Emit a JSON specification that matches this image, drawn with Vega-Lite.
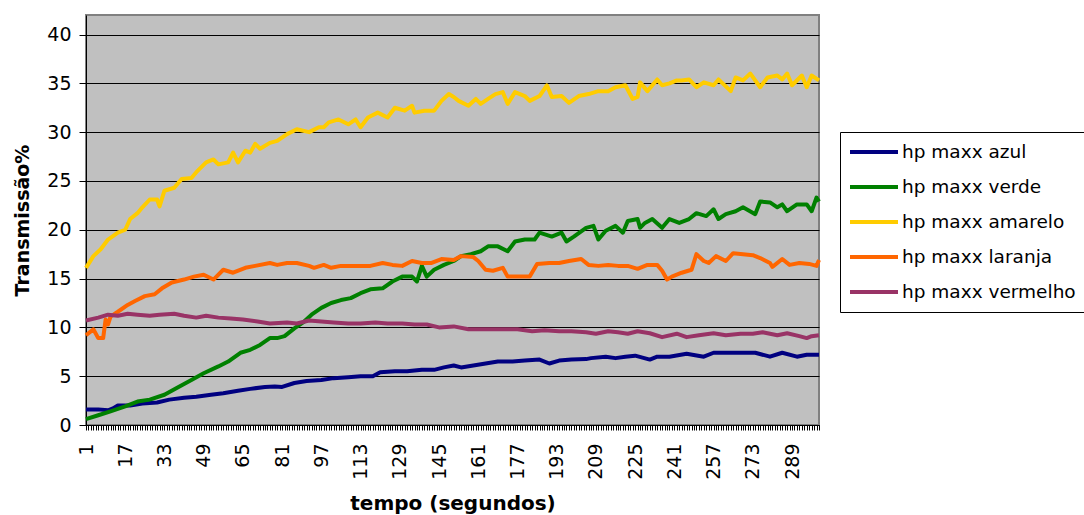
{
  "$schema": "https://vega.github.io/schema/vega-lite/v6.json",
  "width": 733,
  "height": 410,
  "autosize": {"type": "none"},
  "padding": {"left": 86, "top": 15, "right": 265, "bottom": 90},
  "background": "white",
  "config": {
    "font": "DejaVu Sans",
    "view": {"fill": "#C0C0C0", "stroke": "#808080", "strokeWidth": 2}
  },
  "data": {
    "values": [
      {"tempo": 1, "serie": "hp maxx azul", "valor": 1.6},
      {"tempo": 6, "serie": "hp maxx azul", "valor": 1.6},
      {"tempo": 10, "serie": "hp maxx azul", "valor": 1.5},
      {"tempo": 12, "serie": "hp maxx azul", "valor": 1.7},
      {"tempo": 14, "serie": "hp maxx azul", "valor": 2.0},
      {"tempo": 19, "serie": "hp maxx azul", "valor": 2.0},
      {"tempo": 24, "serie": "hp maxx azul", "valor": 2.2},
      {"tempo": 30, "serie": "hp maxx azul", "valor": 2.3},
      {"tempo": 35, "serie": "hp maxx azul", "valor": 2.6},
      {"tempo": 41, "serie": "hp maxx azul", "valor": 2.8},
      {"tempo": 46, "serie": "hp maxx azul", "valor": 2.9},
      {"tempo": 52, "serie": "hp maxx azul", "valor": 3.1},
      {"tempo": 57, "serie": "hp maxx azul", "valor": 3.25},
      {"tempo": 63, "serie": "hp maxx azul", "valor": 3.5},
      {"tempo": 68, "serie": "hp maxx azul", "valor": 3.7},
      {"tempo": 74, "serie": "hp maxx azul", "valor": 3.9},
      {"tempo": 78, "serie": "hp maxx azul", "valor": 3.95},
      {"tempo": 81, "serie": "hp maxx azul", "valor": 3.9},
      {"tempo": 86, "serie": "hp maxx azul", "valor": 4.3},
      {"tempo": 91, "serie": "hp maxx azul", "valor": 4.5},
      {"tempo": 97, "serie": "hp maxx azul", "valor": 4.6},
      {"tempo": 102, "serie": "hp maxx azul", "valor": 4.8},
      {"tempo": 108, "serie": "hp maxx azul", "valor": 4.9},
      {"tempo": 113, "serie": "hp maxx azul", "valor": 5.0},
      {"tempo": 118, "serie": "hp maxx azul", "valor": 5.0},
      {"tempo": 121, "serie": "hp maxx azul", "valor": 5.4},
      {"tempo": 127, "serie": "hp maxx azul", "valor": 5.5},
      {"tempo": 132, "serie": "hp maxx azul", "valor": 5.5},
      {"tempo": 138, "serie": "hp maxx azul", "valor": 5.65},
      {"tempo": 143, "serie": "hp maxx azul", "valor": 5.65},
      {"tempo": 147, "serie": "hp maxx azul", "valor": 5.9},
      {"tempo": 151, "serie": "hp maxx azul", "valor": 6.1},
      {"tempo": 154, "serie": "hp maxx azul", "valor": 5.9},
      {"tempo": 159, "serie": "hp maxx azul", "valor": 6.1},
      {"tempo": 164, "serie": "hp maxx azul", "valor": 6.3},
      {"tempo": 169, "serie": "hp maxx azul", "valor": 6.5},
      {"tempo": 175, "serie": "hp maxx azul", "valor": 6.5},
      {"tempo": 180, "serie": "hp maxx azul", "valor": 6.6},
      {"tempo": 186, "serie": "hp maxx azul", "valor": 6.7},
      {"tempo": 190, "serie": "hp maxx azul", "valor": 6.3},
      {"tempo": 194, "serie": "hp maxx azul", "valor": 6.6},
      {"tempo": 199, "serie": "hp maxx azul", "valor": 6.7},
      {"tempo": 205, "serie": "hp maxx azul", "valor": 6.75},
      {"tempo": 207, "serie": "hp maxx azul", "valor": 6.85},
      {"tempo": 213, "serie": "hp maxx azul", "valor": 7.0},
      {"tempo": 217, "serie": "hp maxx azul", "valor": 6.85},
      {"tempo": 221, "serie": "hp maxx azul", "valor": 7.0},
      {"tempo": 225, "serie": "hp maxx azul", "valor": 7.1},
      {"tempo": 231, "serie": "hp maxx azul", "valor": 6.7},
      {"tempo": 234, "serie": "hp maxx azul", "valor": 7.0},
      {"tempo": 239, "serie": "hp maxx azul", "valor": 7.0},
      {"tempo": 246, "serie": "hp maxx azul", "valor": 7.3},
      {"tempo": 253, "serie": "hp maxx azul", "valor": 7.0},
      {"tempo": 257, "serie": "hp maxx azul", "valor": 7.4},
      {"tempo": 264, "serie": "hp maxx azul", "valor": 7.4},
      {"tempo": 269, "serie": "hp maxx azul", "valor": 7.4},
      {"tempo": 274, "serie": "hp maxx azul", "valor": 7.4},
      {"tempo": 280, "serie": "hp maxx azul", "valor": 7.0},
      {"tempo": 285, "serie": "hp maxx azul", "valor": 7.4},
      {"tempo": 291, "serie": "hp maxx azul", "valor": 7.0},
      {"tempo": 295, "serie": "hp maxx azul", "valor": 7.2},
      {"tempo": 300, "serie": "hp maxx azul", "valor": 7.2},

      {"tempo": 1, "serie": "hp maxx verde", "valor": 0.6},
      {"tempo": 6, "serie": "hp maxx verde", "valor": 1.0},
      {"tempo": 11, "serie": "hp maxx verde", "valor": 1.4},
      {"tempo": 17, "serie": "hp maxx verde", "valor": 1.9},
      {"tempo": 22, "serie": "hp maxx verde", "valor": 2.4},
      {"tempo": 27, "serie": "hp maxx verde", "valor": 2.6},
      {"tempo": 33, "serie": "hp maxx verde", "valor": 3.1},
      {"tempo": 38, "serie": "hp maxx verde", "valor": 3.8},
      {"tempo": 44, "serie": "hp maxx verde", "valor": 4.6},
      {"tempo": 49, "serie": "hp maxx verde", "valor": 5.3},
      {"tempo": 55, "serie": "hp maxx verde", "valor": 6.0},
      {"tempo": 59, "serie": "hp maxx verde", "valor": 6.5},
      {"tempo": 64, "serie": "hp maxx verde", "valor": 7.4},
      {"tempo": 68, "serie": "hp maxx verde", "valor": 7.7},
      {"tempo": 72, "serie": "hp maxx verde", "valor": 8.2},
      {"tempo": 76, "serie": "hp maxx verde", "valor": 8.9},
      {"tempo": 79, "serie": "hp maxx verde", "valor": 8.9},
      {"tempo": 82, "serie": "hp maxx verde", "valor": 9.1},
      {"tempo": 86, "serie": "hp maxx verde", "valor": 9.9},
      {"tempo": 90, "serie": "hp maxx verde", "valor": 10.6},
      {"tempo": 93, "serie": "hp maxx verde", "valor": 11.3},
      {"tempo": 97, "serie": "hp maxx verde", "valor": 12.0},
      {"tempo": 101, "serie": "hp maxx verde", "valor": 12.5},
      {"tempo": 105, "serie": "hp maxx verde", "valor": 12.8},
      {"tempo": 109, "serie": "hp maxx verde", "valor": 13.0},
      {"tempo": 113, "serie": "hp maxx verde", "valor": 13.5},
      {"tempo": 117, "serie": "hp maxx verde", "valor": 13.9},
      {"tempo": 122, "serie": "hp maxx verde", "valor": 14.0},
      {"tempo": 126, "serie": "hp maxx verde", "valor": 14.7},
      {"tempo": 130, "serie": "hp maxx verde", "valor": 15.2},
      {"tempo": 134, "serie": "hp maxx verde", "valor": 15.2},
      {"tempo": 136, "serie": "hp maxx verde", "valor": 14.7},
      {"tempo": 138, "serie": "hp maxx verde", "valor": 16.3},
      {"tempo": 140, "serie": "hp maxx verde", "valor": 15.2},
      {"tempo": 143, "serie": "hp maxx verde", "valor": 15.9},
      {"tempo": 147, "serie": "hp maxx verde", "valor": 16.4},
      {"tempo": 151, "serie": "hp maxx verde", "valor": 16.8},
      {"tempo": 154, "serie": "hp maxx verde", "valor": 17.3},
      {"tempo": 158, "serie": "hp maxx verde", "valor": 17.5},
      {"tempo": 162, "serie": "hp maxx verde", "valor": 17.8},
      {"tempo": 165, "serie": "hp maxx verde", "valor": 18.3},
      {"tempo": 169, "serie": "hp maxx verde", "valor": 18.3},
      {"tempo": 173, "serie": "hp maxx verde", "valor": 17.8},
      {"tempo": 176, "serie": "hp maxx verde", "valor": 18.8},
      {"tempo": 180, "serie": "hp maxx verde", "valor": 19.0},
      {"tempo": 184, "serie": "hp maxx verde", "valor": 19.0},
      {"tempo": 186, "serie": "hp maxx verde", "valor": 19.7},
      {"tempo": 191, "serie": "hp maxx verde", "valor": 19.3},
      {"tempo": 195, "serie": "hp maxx verde", "valor": 19.7},
      {"tempo": 197, "serie": "hp maxx verde", "valor": 18.8},
      {"tempo": 200, "serie": "hp maxx verde", "valor": 19.3},
      {"tempo": 205, "serie": "hp maxx verde", "valor": 20.2},
      {"tempo": 208, "serie": "hp maxx verde", "valor": 20.4},
      {"tempo": 210, "serie": "hp maxx verde", "valor": 19.0},
      {"tempo": 213, "serie": "hp maxx verde", "valor": 19.9},
      {"tempo": 217, "serie": "hp maxx verde", "valor": 20.4},
      {"tempo": 220, "serie": "hp maxx verde", "valor": 19.7},
      {"tempo": 222, "serie": "hp maxx verde", "valor": 20.9},
      {"tempo": 226, "serie": "hp maxx verde", "valor": 21.1},
      {"tempo": 227, "serie": "hp maxx verde", "valor": 20.2},
      {"tempo": 229, "serie": "hp maxx verde", "valor": 20.7},
      {"tempo": 232, "serie": "hp maxx verde", "valor": 21.1},
      {"tempo": 236, "serie": "hp maxx verde", "valor": 20.2},
      {"tempo": 239, "serie": "hp maxx verde", "valor": 21.1},
      {"tempo": 243, "serie": "hp maxx verde", "valor": 20.7},
      {"tempo": 247, "serie": "hp maxx verde", "valor": 21.1},
      {"tempo": 250, "serie": "hp maxx verde", "valor": 21.7},
      {"tempo": 254, "serie": "hp maxx verde", "valor": 21.4},
      {"tempo": 257, "serie": "hp maxx verde", "valor": 22.1},
      {"tempo": 259, "serie": "hp maxx verde", "valor": 21.1},
      {"tempo": 262, "serie": "hp maxx verde", "valor": 21.6},
      {"tempo": 266, "serie": "hp maxx verde", "valor": 21.9},
      {"tempo": 269, "serie": "hp maxx verde", "valor": 22.3},
      {"tempo": 274, "serie": "hp maxx verde", "valor": 21.6},
      {"tempo": 276, "serie": "hp maxx verde", "valor": 22.9},
      {"tempo": 280, "serie": "hp maxx verde", "valor": 22.8},
      {"tempo": 283, "serie": "hp maxx verde", "valor": 22.3},
      {"tempo": 285, "serie": "hp maxx verde", "valor": 22.6},
      {"tempo": 287, "serie": "hp maxx verde", "valor": 21.9},
      {"tempo": 291, "serie": "hp maxx verde", "valor": 22.6},
      {"tempo": 295, "serie": "hp maxx verde", "valor": 22.6},
      {"tempo": 297, "serie": "hp maxx verde", "valor": 21.9},
      {"tempo": 299, "serie": "hp maxx verde", "valor": 23.3},
      {"tempo": 300, "serie": "hp maxx verde", "valor": 22.9},

      {"tempo": 1, "serie": "hp maxx amarelo", "valor": 16.1},
      {"tempo": 4, "serie": "hp maxx amarelo", "valor": 17.3},
      {"tempo": 7, "serie": "hp maxx amarelo", "valor": 18.0},
      {"tempo": 10, "serie": "hp maxx amarelo", "valor": 19.0},
      {"tempo": 14, "serie": "hp maxx amarelo", "valor": 19.7},
      {"tempo": 17, "serie": "hp maxx amarelo", "valor": 20.0},
      {"tempo": 19, "serie": "hp maxx amarelo", "valor": 21.1},
      {"tempo": 22, "serie": "hp maxx amarelo", "valor": 21.7},
      {"tempo": 24, "serie": "hp maxx amarelo", "valor": 22.3},
      {"tempo": 27, "serie": "hp maxx amarelo", "valor": 23.1},
      {"tempo": 30, "serie": "hp maxx amarelo", "valor": 23.1},
      {"tempo": 31, "serie": "hp maxx amarelo", "valor": 22.4},
      {"tempo": 33, "serie": "hp maxx amarelo", "valor": 24.0},
      {"tempo": 37, "serie": "hp maxx amarelo", "valor": 24.3},
      {"tempo": 40, "serie": "hp maxx amarelo", "valor": 25.2},
      {"tempo": 44, "serie": "hp maxx amarelo", "valor": 25.3},
      {"tempo": 46, "serie": "hp maxx amarelo", "valor": 25.9},
      {"tempo": 50, "serie": "hp maxx amarelo", "valor": 26.9},
      {"tempo": 53, "serie": "hp maxx amarelo", "valor": 27.2},
      {"tempo": 55, "serie": "hp maxx amarelo", "valor": 26.7},
      {"tempo": 59, "serie": "hp maxx amarelo", "valor": 26.9},
      {"tempo": 61, "serie": "hp maxx amarelo", "valor": 27.9},
      {"tempo": 63, "serie": "hp maxx amarelo", "valor": 26.9},
      {"tempo": 66, "serie": "hp maxx amarelo", "valor": 28.1},
      {"tempo": 68, "serie": "hp maxx amarelo", "valor": 27.9},
      {"tempo": 70, "serie": "hp maxx amarelo", "valor": 28.8},
      {"tempo": 72, "serie": "hp maxx amarelo", "valor": 28.3},
      {"tempo": 76, "serie": "hp maxx amarelo", "valor": 28.9},
      {"tempo": 79, "serie": "hp maxx amarelo", "valor": 29.1},
      {"tempo": 83, "serie": "hp maxx amarelo", "valor": 29.8},
      {"tempo": 87, "serie": "hp maxx amarelo", "valor": 30.3},
      {"tempo": 92, "serie": "hp maxx amarelo", "valor": 30.0},
      {"tempo": 96, "serie": "hp maxx amarelo", "valor": 30.5},
      {"tempo": 98, "serie": "hp maxx amarelo", "valor": 30.5},
      {"tempo": 100, "serie": "hp maxx amarelo", "valor": 31.0},
      {"tempo": 104, "serie": "hp maxx amarelo", "valor": 31.3},
      {"tempo": 108, "serie": "hp maxx amarelo", "valor": 30.8},
      {"tempo": 111, "serie": "hp maxx amarelo", "valor": 31.3},
      {"tempo": 113, "serie": "hp maxx amarelo", "valor": 30.5},
      {"tempo": 116, "serie": "hp maxx amarelo", "valor": 31.5},
      {"tempo": 120, "serie": "hp maxx amarelo", "valor": 32.0},
      {"tempo": 124, "serie": "hp maxx amarelo", "valor": 31.5},
      {"tempo": 127, "serie": "hp maxx amarelo", "valor": 32.5},
      {"tempo": 131, "serie": "hp maxx amarelo", "valor": 32.2},
      {"tempo": 134, "serie": "hp maxx amarelo", "valor": 32.7},
      {"tempo": 135, "serie": "hp maxx amarelo", "valor": 32.0},
      {"tempo": 139, "serie": "hp maxx amarelo", "valor": 32.2},
      {"tempo": 143, "serie": "hp maxx amarelo", "valor": 32.2},
      {"tempo": 146, "serie": "hp maxx amarelo", "valor": 33.2},
      {"tempo": 149, "serie": "hp maxx amarelo", "valor": 33.9},
      {"tempo": 151, "serie": "hp maxx amarelo", "valor": 33.6},
      {"tempo": 153, "serie": "hp maxx amarelo", "valor": 33.2},
      {"tempo": 157, "serie": "hp maxx amarelo", "valor": 32.7},
      {"tempo": 160, "serie": "hp maxx amarelo", "valor": 33.4},
      {"tempo": 162, "serie": "hp maxx amarelo", "valor": 32.9},
      {"tempo": 165, "serie": "hp maxx amarelo", "valor": 33.4},
      {"tempo": 168, "serie": "hp maxx amarelo", "valor": 33.9},
      {"tempo": 171, "serie": "hp maxx amarelo", "valor": 34.1},
      {"tempo": 173, "serie": "hp maxx amarelo", "valor": 32.9},
      {"tempo": 176, "serie": "hp maxx amarelo", "valor": 34.1},
      {"tempo": 180, "serie": "hp maxx amarelo", "valor": 33.7},
      {"tempo": 182, "serie": "hp maxx amarelo", "valor": 33.2},
      {"tempo": 186, "serie": "hp maxx amarelo", "valor": 33.7},
      {"tempo": 189, "serie": "hp maxx amarelo", "valor": 34.8},
      {"tempo": 191, "serie": "hp maxx amarelo", "valor": 33.6},
      {"tempo": 195, "serie": "hp maxx amarelo", "valor": 33.7},
      {"tempo": 198, "serie": "hp maxx amarelo", "valor": 33.0},
      {"tempo": 202, "serie": "hp maxx amarelo", "valor": 33.7},
      {"tempo": 206, "serie": "hp maxx amarelo", "valor": 33.9},
      {"tempo": 210, "serie": "hp maxx amarelo", "valor": 34.2},
      {"tempo": 214, "serie": "hp maxx amarelo", "valor": 34.2},
      {"tempo": 217, "serie": "hp maxx amarelo", "valor": 34.6},
      {"tempo": 221, "serie": "hp maxx amarelo", "valor": 34.8},
      {"tempo": 224, "serie": "hp maxx amarelo", "valor": 33.4},
      {"tempo": 226, "serie": "hp maxx amarelo", "valor": 33.6},
      {"tempo": 227, "serie": "hp maxx amarelo", "valor": 35.1},
      {"tempo": 230, "serie": "hp maxx amarelo", "valor": 34.2},
      {"tempo": 234, "serie": "hp maxx amarelo", "valor": 35.4},
      {"tempo": 236, "serie": "hp maxx amarelo", "valor": 34.8},
      {"tempo": 239, "serie": "hp maxx amarelo", "valor": 35.0},
      {"tempo": 242, "serie": "hp maxx amarelo", "valor": 35.3},
      {"tempo": 244, "serie": "hp maxx amarelo", "valor": 35.3},
      {"tempo": 247, "serie": "hp maxx amarelo", "valor": 35.4},
      {"tempo": 250, "serie": "hp maxx amarelo", "valor": 34.6},
      {"tempo": 253, "serie": "hp maxx amarelo", "valor": 35.1},
      {"tempo": 257, "serie": "hp maxx amarelo", "valor": 34.8},
      {"tempo": 259, "serie": "hp maxx amarelo", "valor": 35.4},
      {"tempo": 264, "serie": "hp maxx amarelo", "valor": 34.2},
      {"tempo": 266, "serie": "hp maxx amarelo", "valor": 35.6},
      {"tempo": 269, "serie": "hp maxx amarelo", "valor": 35.3},
      {"tempo": 272, "serie": "hp maxx amarelo", "valor": 36.0},
      {"tempo": 276, "serie": "hp maxx amarelo", "valor": 34.6},
      {"tempo": 279, "serie": "hp maxx amarelo", "valor": 35.6},
      {"tempo": 283, "serie": "hp maxx amarelo", "valor": 35.8},
      {"tempo": 285, "serie": "hp maxx amarelo", "valor": 35.4},
      {"tempo": 287, "serie": "hp maxx amarelo", "valor": 36.0},
      {"tempo": 289, "serie": "hp maxx amarelo", "valor": 34.8},
      {"tempo": 293, "serie": "hp maxx amarelo", "valor": 35.8},
      {"tempo": 295, "serie": "hp maxx amarelo", "valor": 34.6},
      {"tempo": 297, "serie": "hp maxx amarelo", "valor": 35.8},
      {"tempo": 300, "serie": "hp maxx amarelo", "valor": 35.3},

      {"tempo": 1, "serie": "hp maxx laranja", "valor": 9.2},
      {"tempo": 4, "serie": "hp maxx laranja", "valor": 9.8},
      {"tempo": 6, "serie": "hp maxx laranja", "valor": 8.9},
      {"tempo": 8, "serie": "hp maxx laranja", "valor": 8.9},
      {"tempo": 9, "serie": "hp maxx laranja", "valor": 10.8},
      {"tempo": 10, "serie": "hp maxx laranja", "valor": 10.3},
      {"tempo": 11, "serie": "hp maxx laranja", "valor": 11.1},
      {"tempo": 14, "serie": "hp maxx laranja", "valor": 11.6},
      {"tempo": 18, "serie": "hp maxx laranja", "valor": 12.3},
      {"tempo": 21, "serie": "hp maxx laranja", "valor": 12.7},
      {"tempo": 25, "serie": "hp maxx laranja", "valor": 13.2},
      {"tempo": 29, "serie": "hp maxx laranja", "valor": 13.4},
      {"tempo": 32, "serie": "hp maxx laranja", "valor": 14.0},
      {"tempo": 36, "serie": "hp maxx laranja", "valor": 14.6},
      {"tempo": 41, "serie": "hp maxx laranja", "valor": 14.9},
      {"tempo": 45, "serie": "hp maxx laranja", "valor": 15.2},
      {"tempo": 49, "serie": "hp maxx laranja", "valor": 15.4},
      {"tempo": 53, "serie": "hp maxx laranja", "valor": 14.9},
      {"tempo": 57, "serie": "hp maxx laranja", "valor": 15.9},
      {"tempo": 61, "serie": "hp maxx laranja", "valor": 15.6},
      {"tempo": 66, "serie": "hp maxx laranja", "valor": 16.1},
      {"tempo": 70, "serie": "hp maxx laranja", "valor": 16.3},
      {"tempo": 76, "serie": "hp maxx laranja", "valor": 16.6},
      {"tempo": 79, "serie": "hp maxx laranja", "valor": 16.4},
      {"tempo": 83, "serie": "hp maxx laranja", "valor": 16.6},
      {"tempo": 87, "serie": "hp maxx laranja", "valor": 16.6},
      {"tempo": 92, "serie": "hp maxx laranja", "valor": 16.3},
      {"tempo": 94, "serie": "hp maxx laranja", "valor": 16.1},
      {"tempo": 98, "serie": "hp maxx laranja", "valor": 16.4},
      {"tempo": 101, "serie": "hp maxx laranja", "valor": 16.1},
      {"tempo": 105, "serie": "hp maxx laranja", "valor": 16.3},
      {"tempo": 109, "serie": "hp maxx laranja", "valor": 16.3},
      {"tempo": 113, "serie": "hp maxx laranja", "valor": 16.3},
      {"tempo": 117, "serie": "hp maxx laranja", "valor": 16.3},
      {"tempo": 122, "serie": "hp maxx laranja", "valor": 16.6},
      {"tempo": 126, "serie": "hp maxx laranja", "valor": 16.4},
      {"tempo": 130, "serie": "hp maxx laranja", "valor": 16.3},
      {"tempo": 134, "serie": "hp maxx laranja", "valor": 16.8},
      {"tempo": 138, "serie": "hp maxx laranja", "valor": 16.6},
      {"tempo": 142, "serie": "hp maxx laranja", "valor": 16.6},
      {"tempo": 146, "serie": "hp maxx laranja", "valor": 17.0},
      {"tempo": 151, "serie": "hp maxx laranja", "valor": 16.9},
      {"tempo": 154, "serie": "hp maxx laranja", "valor": 17.3},
      {"tempo": 159, "serie": "hp maxx laranja", "valor": 17.2},
      {"tempo": 161, "serie": "hp maxx laranja", "valor": 16.8},
      {"tempo": 164, "serie": "hp maxx laranja", "valor": 15.9},
      {"tempo": 167, "serie": "hp maxx laranja", "valor": 15.8},
      {"tempo": 171, "serie": "hp maxx laranja", "valor": 16.1},
      {"tempo": 173, "serie": "hp maxx laranja", "valor": 15.2},
      {"tempo": 178, "serie": "hp maxx laranja", "valor": 15.2},
      {"tempo": 182, "serie": "hp maxx laranja", "valor": 15.2},
      {"tempo": 185, "serie": "hp maxx laranja", "valor": 16.5},
      {"tempo": 190, "serie": "hp maxx laranja", "valor": 16.6},
      {"tempo": 194, "serie": "hp maxx laranja", "valor": 16.6},
      {"tempo": 198, "serie": "hp maxx laranja", "valor": 16.8},
      {"tempo": 203, "serie": "hp maxx laranja", "valor": 17.0},
      {"tempo": 206, "serie": "hp maxx laranja", "valor": 16.4},
      {"tempo": 210, "serie": "hp maxx laranja", "valor": 16.3},
      {"tempo": 214, "serie": "hp maxx laranja", "valor": 16.4},
      {"tempo": 218, "serie": "hp maxx laranja", "valor": 16.3},
      {"tempo": 222, "serie": "hp maxx laranja", "valor": 16.3},
      {"tempo": 226, "serie": "hp maxx laranja", "valor": 16.0},
      {"tempo": 230, "serie": "hp maxx laranja", "valor": 16.4},
      {"tempo": 234, "serie": "hp maxx laranja", "valor": 16.4},
      {"tempo": 236, "serie": "hp maxx laranja", "valor": 15.8},
      {"tempo": 238, "serie": "hp maxx laranja", "valor": 14.9},
      {"tempo": 240, "serie": "hp maxx laranja", "valor": 15.2},
      {"tempo": 244, "serie": "hp maxx laranja", "valor": 15.6},
      {"tempo": 248, "serie": "hp maxx laranja", "valor": 15.9},
      {"tempo": 250, "serie": "hp maxx laranja", "valor": 17.5},
      {"tempo": 253, "serie": "hp maxx laranja", "valor": 16.8},
      {"tempo": 255, "serie": "hp maxx laranja", "valor": 16.6},
      {"tempo": 258, "serie": "hp maxx laranja", "valor": 17.3},
      {"tempo": 262, "serie": "hp maxx laranja", "valor": 16.8},
      {"tempo": 265, "serie": "hp maxx laranja", "valor": 17.6},
      {"tempo": 269, "serie": "hp maxx laranja", "valor": 17.5},
      {"tempo": 273, "serie": "hp maxx laranja", "valor": 17.4},
      {"tempo": 276, "serie": "hp maxx laranja", "valor": 17.1},
      {"tempo": 280, "serie": "hp maxx laranja", "valor": 16.6},
      {"tempo": 281, "serie": "hp maxx laranja", "valor": 16.2},
      {"tempo": 285, "serie": "hp maxx laranja", "valor": 17.0},
      {"tempo": 288, "serie": "hp maxx laranja", "valor": 16.4},
      {"tempo": 292, "serie": "hp maxx laranja", "valor": 16.6},
      {"tempo": 296, "serie": "hp maxx laranja", "valor": 16.5},
      {"tempo": 299, "serie": "hp maxx laranja", "valor": 16.3},
      {"tempo": 300, "serie": "hp maxx laranja", "valor": 16.9},

      {"tempo": 1, "serie": "hp maxx vermelho", "valor": 10.7},
      {"tempo": 6, "serie": "hp maxx vermelho", "valor": 11.0},
      {"tempo": 10, "serie": "hp maxx vermelho", "valor": 11.3},
      {"tempo": 14, "serie": "hp maxx vermelho", "valor": 11.2},
      {"tempo": 18, "serie": "hp maxx vermelho", "valor": 11.4},
      {"tempo": 22, "serie": "hp maxx vermelho", "valor": 11.3},
      {"tempo": 27, "serie": "hp maxx vermelho", "valor": 11.2},
      {"tempo": 31, "serie": "hp maxx vermelho", "valor": 11.3},
      {"tempo": 37, "serie": "hp maxx vermelho", "valor": 11.4},
      {"tempo": 41, "serie": "hp maxx vermelho", "valor": 11.2},
      {"tempo": 46, "serie": "hp maxx vermelho", "valor": 11.0},
      {"tempo": 50, "serie": "hp maxx vermelho", "valor": 11.2},
      {"tempo": 55, "serie": "hp maxx vermelho", "valor": 11.0},
      {"tempo": 60, "serie": "hp maxx vermelho", "valor": 10.9},
      {"tempo": 65, "serie": "hp maxx vermelho", "valor": 10.8},
      {"tempo": 71, "serie": "hp maxx vermelho", "valor": 10.6},
      {"tempo": 76, "serie": "hp maxx vermelho", "valor": 10.4},
      {"tempo": 83, "serie": "hp maxx vermelho", "valor": 10.5},
      {"tempo": 87, "serie": "hp maxx vermelho", "valor": 10.4},
      {"tempo": 92, "serie": "hp maxx vermelho", "valor": 10.7},
      {"tempo": 97, "serie": "hp maxx vermelho", "valor": 10.6},
      {"tempo": 102, "serie": "hp maxx vermelho", "valor": 10.5},
      {"tempo": 108, "serie": "hp maxx vermelho", "valor": 10.4},
      {"tempo": 113, "serie": "hp maxx vermelho", "valor": 10.4},
      {"tempo": 119, "serie": "hp maxx vermelho", "valor": 10.5},
      {"tempo": 124, "serie": "hp maxx vermelho", "valor": 10.4},
      {"tempo": 130, "serie": "hp maxx vermelho", "valor": 10.4},
      {"tempo": 135, "serie": "hp maxx vermelho", "valor": 10.3},
      {"tempo": 140, "serie": "hp maxx vermelho", "valor": 10.3},
      {"tempo": 145, "serie": "hp maxx vermelho", "valor": 10.0},
      {"tempo": 151, "serie": "hp maxx vermelho", "valor": 10.1},
      {"tempo": 157, "serie": "hp maxx vermelho", "valor": 9.8},
      {"tempo": 164, "serie": "hp maxx vermelho", "valor": 9.8},
      {"tempo": 171, "serie": "hp maxx vermelho", "valor": 9.8},
      {"tempo": 177, "serie": "hp maxx vermelho", "valor": 9.8},
      {"tempo": 183, "serie": "hp maxx vermelho", "valor": 9.6},
      {"tempo": 188, "serie": "hp maxx vermelho", "valor": 9.7},
      {"tempo": 194, "serie": "hp maxx vermelho", "valor": 9.6},
      {"tempo": 199, "serie": "hp maxx vermelho", "valor": 9.6},
      {"tempo": 205, "serie": "hp maxx vermelho", "valor": 9.5},
      {"tempo": 209, "serie": "hp maxx vermelho", "valor": 9.35},
      {"tempo": 214, "serie": "hp maxx vermelho", "valor": 9.6},
      {"tempo": 218, "serie": "hp maxx vermelho", "valor": 9.5},
      {"tempo": 222, "serie": "hp maxx vermelho", "valor": 9.35},
      {"tempo": 226, "serie": "hp maxx vermelho", "valor": 9.6},
      {"tempo": 231, "serie": "hp maxx vermelho", "valor": 9.4},
      {"tempo": 236, "serie": "hp maxx vermelho", "valor": 9.0},
      {"tempo": 242, "serie": "hp maxx vermelho", "valor": 9.35},
      {"tempo": 246, "serie": "hp maxx vermelho", "valor": 9.0},
      {"tempo": 251, "serie": "hp maxx vermelho", "valor": 9.2},
      {"tempo": 257, "serie": "hp maxx vermelho", "valor": 9.4},
      {"tempo": 262, "serie": "hp maxx vermelho", "valor": 9.2},
      {"tempo": 268, "serie": "hp maxx vermelho", "valor": 9.35},
      {"tempo": 273, "serie": "hp maxx vermelho", "valor": 9.35},
      {"tempo": 277, "serie": "hp maxx vermelho", "valor": 9.5},
      {"tempo": 283, "serie": "hp maxx vermelho", "valor": 9.2},
      {"tempo": 287, "serie": "hp maxx vermelho", "valor": 9.4},
      {"tempo": 292, "serie": "hp maxx vermelho", "valor": 9.1},
      {"tempo": 295, "serie": "hp maxx vermelho", "valor": 8.9},
      {"tempo": 297, "serie": "hp maxx vermelho", "valor": 9.1},
      {"tempo": 300, "serie": "hp maxx vermelho", "valor": 9.2}
    ]
  },
  "mark": {"type": "line", "strokeWidth": 4, "strokeJoin": "round"},
  "encoding": {
    "x": {
      "field": "tempo",
      "type": "quantitative",
      "scale": {"domain": [1, 300], "nice": false, "zero": false},
      "axis": {
        "title": "tempo (segundos)",
        "tickCount": 300,
        "labelExpr": "(datum.value - 1) % 16 == 0 ? datum.label : ''",
        "labelAngle": 270,
        "labelAlign": "right",
        "labelBaseline": "middle",
        "labelFontSize": 19,
        "labelColor": "#000000",
        "labelPadding": 13,
        "labelOverlap": false,
        "labelFlush": false,
        "labelBound": false,
        "tickSize": 5,
        "tickColor": "#000000",
        "domainColor": "#000000",
        "domainWidth": 1,
        "grid": false,
        "titleFontSize": 20,
        "titleFontWeight": "bold",
        "titleColor": "#000000",
        "titlePadding": 14
      }
    },
    "y": {
      "field": "valor",
      "type": "quantitative",
      "scale": {"domain": [0, 42], "nice": false},
      "axis": {
        "title": "Transmissão%",
        "values": [0, 5, 10, 15, 20, 25, 30, 35, 40],
        "grid": true,
        "gridColor": "#000000",
        "gridWidth": 1,
        "gridOpacity": 1,
        "tickSize": 7,
        "tickColor": "#000000",
        "domainColor": "#000000",
        "labelFontSize": 19,
        "labelColor": "#000000",
        "labelPadding": 8,
        "titleFontSize": 19,
        "titleFontWeight": "bold",
        "titleColor": "#000000",
        "titlePadding": 14
      }
    },
    "color": {
      "field": "serie",
      "type": "nominal",
      "scale": {
        "domain": ["hp maxx azul", "hp maxx verde", "hp maxx amarelo", "hp maxx laranja", "hp maxx vermelho"],
        "range": ["#000080", "#008000", "#FFCC00", "#FF6600", "#993366"]
      },
      "legend": {
        "title": null,
        "orient": "none",
        "legendX": 754,
        "legendY": 117,
        "strokeColor": "#000000",
        "fillColor": "#FFFFFF",
        "padding": 10,
        "clipHeight": 20,
        "symbolType": "stroke",
        "symbolSize": 2704,
        "symbolStrokeWidth": 4,
        "symbolOffset": -6,
        "labelFontSize": 18.5,
        "labelColor": "#000000",
        "labelOffset": 2,
        "labelLimit": 300,
        "rowPadding": 15
      }
    }
  }
}
